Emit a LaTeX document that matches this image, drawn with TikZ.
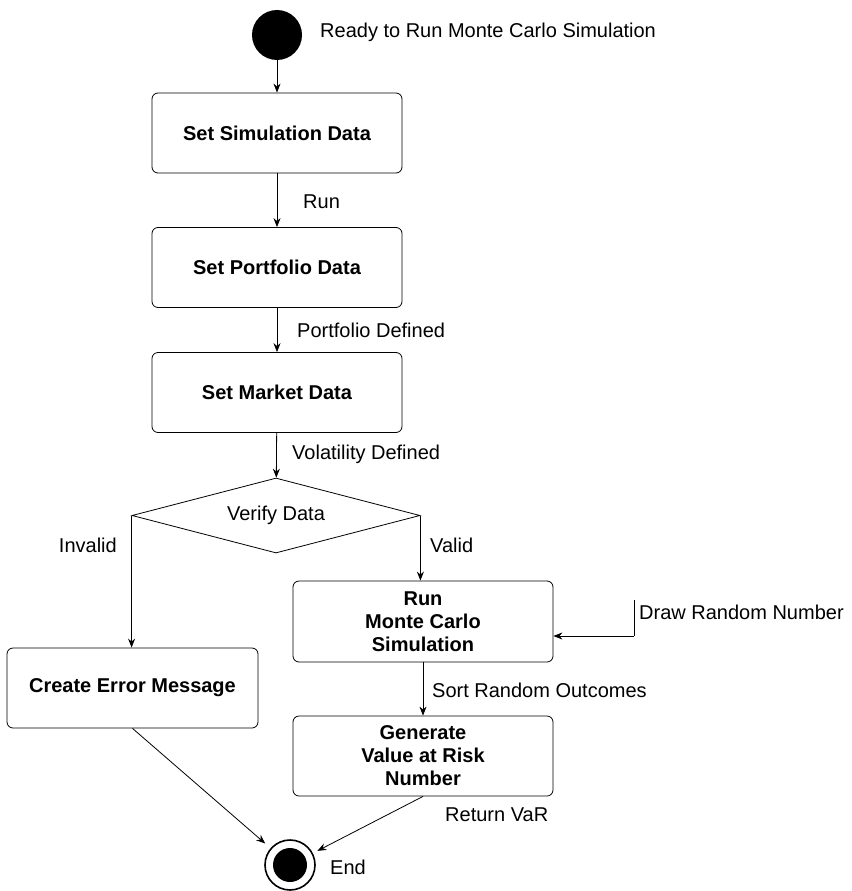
\documentclass[tikz,border=0pt]{standalone}
\usepackage{fontspec}
\setmainfont{Liberation Sans}
\usetikzlibrary{arrows.meta,positioning,shapes.geometric}

\begin{document}
\begin{tikzpicture}[
    x=1pt, y=-1pt,
    every node/.style={font=\fontsize{20}{23}\selectfont},
    activity/.style={draw, rounded corners=6pt, line width=0.8pt, align=center,
        font=\fontsize{20}{23}\selectfont\bfseries, inner sep=0pt,
        minimum width=250pt, minimum height=80pt},
    decision/.style={draw, diamond, line width=0.8pt, inner sep=0pt, aspect=3.8,
        minimum width=288pt, minimum height=75pt},
    lbl/.style={inner sep=0pt, anchor=west},
    flow/.style={draw, line width=0.8pt, -{Stealth[length=9pt,width=7pt]}},
]
\useasboundingbox (0,0) rectangle (851,891);

% states
\node[circle, fill=black, minimum size=50pt, inner sep=0pt] (start) at (277,35) {};
\node[activity] (simdata) at (277,133) {Set Simulation Data};
\node[activity] (portdata) at (277,267.5) {Set Portfolio Data};
\node[activity] (mktdata) at (277,392.5) {Set Market Data};
\node[decision] (verify) at (276,515.5) {Verify Data};
\node[activity, minimum width=251pt] (err) at (132.5,688) {Create Error Message};
\node[activity, minimum width=260pt, minimum height=81pt] (runmc) at (423,621.5)
    {Run\\Monte Carlo\\Simulation};
\node[activity, minimum width=260pt] (gen) at (423,756)
    {Generate\\Value at Risk\\Number};
\node[circle, draw, line width=1.6pt, minimum size=50pt, inner sep=0pt,
    path picture={\fill (path picture bounding box.center) circle (17pt);}]
    (finish) at (290,865) {};
\coordinate (drawtop) at (634,600);
\coordinate (drawcorner) at (634,636);

% labels
\node[lbl] (readylbl) at (320,32) {Ready to Run Monte Carlo Simulation};
\node[lbl] (runlbl) at (303,202) {Run};
\node[lbl] (portlbl) at (297,330) {Portfolio Defined};
\node[lbl] (vollbl) at (292,454) {Volatility Defined};
\node[lbl, anchor=east] (invlbl) at (117,545) {Invalid};
\node[lbl] (validlbl) at (430,545) {Valid};
\node[lbl] (drawlbl) at (639,612) {Draw Random Number};
\node[lbl] (sortlbl) at (432,690) {Sort Random Outcomes};
\node[lbl] (returnlbl) at (445,815) {Return VaR};
\node[lbl] (endlbl) at (330,867) {End};

% transitions
\draw[flow] (start) -- (simdata);
\draw[flow] (simdata) -- (portdata);
\draw[flow] (portdata) -- (mktdata);
\draw[flow] (mktdata) -- (verify);
\draw[flow] (verify.west) -- (verify.west |- err.north);
\draw[flow] (verify.east) -- (verify.east |- runmc.north);
\draw[line width=0.8pt] (drawtop) -- (drawcorner);
\draw[flow] (drawcorner) -- (runmc.east |- drawcorner);
\draw[flow] (runmc) -- (gen);
\draw[flow, shorten >=7pt] (err.south) -- (finish);
\draw[flow, shorten >=5pt] (gen.south) -- (finish);
\end{tikzpicture}
\end{document}
